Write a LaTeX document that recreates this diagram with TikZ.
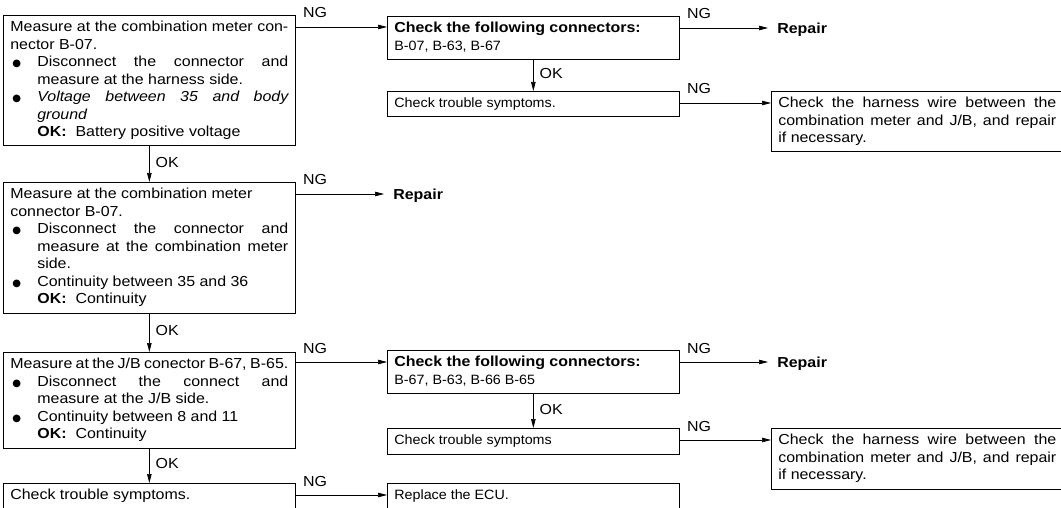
\documentclass[tikz,border=0pt]{standalone}
\usepackage{fontspec}
\setmainfont{Liberation Sans}[FakeStretch=1.06]
\newfontfamily\widefont{Liberation Sans}[FakeStretch=1.1]
\newfontfamily\symfont{DejaVu Sans}
\usetikzlibrary{arrows.meta}
\newcommand\boxfont{\fontsize{13.5}{17.5}\selectfont\tolerance=9999\hbadness=10000\hyphenpenalty=10000}
\newcommand\wfont{\widefont\fontsize{14.5}{17.5}\selectfont\tolerance=9999\hbadness=10000\hyphenpenalty=10000}
\newcommand\head[1]{{\widefont\fontsize{14.5}{17.5}\selectfont\bfseries #1}}
\newcommand\bul{\par\hangindent=27pt\hangafter=0\leavevmode\llap{\makebox[27pt][l]{\hspace{2pt}{\symfont\fontsize{10}{10}\selectfont ●}}}}
\newcommand\okline[1]{\par\hangindent=27pt\hangafter=0\leavevmode\textbf{OK:}\hspace{9pt}#1\strut\par}
\newcommand\rbrk{\unskip\nobreak\hfil\break}
\newcommand\fullline{{\parfillskip=0pt\par}}
\tikzset{
  box/.style={draw,anchor=north west,text width=278pt,inner xsep=7pt,inner ysep=4pt,align=justify,font=\boxfont,execute at begin node=\strut,execute at end node={\ifhmode\strut\fi\par}},
  wbox/.style={box,font=\wfont},
  fix/.style={anchor=west,inner xsep=9pt,inner ysep=0pt,text depth=0pt,font=\wfont\bfseries},
  ng/.style={pos=0,anchor=base west,inner sep=0pt,xshift=7pt,yshift=9pt,font=\wfont},
  ok/.style={pos=0.45,anchor=west,inner sep=0pt,xshift=6pt,font=\wfont}
}
\begin{document}
\begin{tikzpicture}[x=1pt,y=-1pt,line width=0.7pt,>={Triangle[length=9pt,width=4.5pt]}]
	\path[use as bounding box,fill=white] (0,0) rectangle (1061,508);
	\node[wbox] (meas1) at (3,15) {Measure at the combination meter con-\linebreak nector B-07.
		\bul Disconnect the connector and\linebreak measure at the harness side.
		\bul\textit{Voltage between 35 and body\linebreak ground}
		\okline{Battery positive voltage}};
	\node[wbox] (meas2) at (3,182) {Measure at the combination meter\rbrk connector B-07.
		\bul Disconnect the connector and\linebreak measure at the combination meter\linebreak side.
		\bul Continuity between 35 and 36
		\okline{Continuity}};
	\node[wbox] (meas3) at (3,352) {Measure at the J/B conector B-67, B-65.\fullline
		\bul Disconnect the connect and\linebreak measure at the J/B side.
		\bul Continuity between 8 and 11
		\okline{Continuity}};
	\node[wbox] (meas4) at (3,483) {Check trouble symptoms.};
	\node[box] (chk1) at (387,16) {\head{Check the following connectors:}\rbrk B-07, B-63, B-67};
	\node[box] (sym1) at (387,91) {Check trouble symptoms.};
	\node[wbox] (wire1) at (771,91) {Check the harness wire between the\linebreak combination meter and J/B, and repair\linebreak if necessary.};
	\node[box] (chk2) at (387,350) {\head{Check the following connectors:}\rbrk B-67, B-63, B-66 B-65};
	\node[box] (sym2) at (387,428) {Check trouble symptoms};
	\node[wbox] (wire2) at (771,428) {Check the harness wire between the\linebreak combination meter and J/B, and repair\linebreak if necessary.};
	\node[box] (ecu) at (387,483) {Replace the ECU.};
	\node[fix] (fix1) at (768,28) {Repair};
	\node[fix] (fix2) at (384,194) {Repair};
	\node[fix] (fix3) at (768,362) {Repair};
	\draw[->] (meas1) -- node[ok]{OK} (meas2);
	\draw[->] (meas2) -- node[ok]{OK} (meas3);
	\draw[->] (meas3) -- node[ok]{OK} (meas4);
	\draw[->] (chk1) -- node[ok]{OK} (sym1);
	\draw[->] (chk2) -- node[ok]{OK} (sym2);
	\draw[->] ([yshift=-12pt]meas1.north east) -- node[ng]{NG} ([yshift=-12pt]meas1.north east -| chk1.west);
	\draw[->] ([yshift=-12pt]chk1.north east) -- node[ng]{NG} (fix1.west);
	\draw[->] ([yshift=-12pt]sym1.north east) -- node[ng]{NG} ([yshift=-12pt]sym1.north east -| wire1.west);
	\draw[->] ([yshift=-12pt]meas2.north east) -- node[ng]{NG} (fix2.west);
	\draw[->] ([yshift=-10pt]meas3.north east) -- node[ng]{NG} ([yshift=-10pt]meas3.north east -| chk2.west);
	\draw[->] ([yshift=-12pt]chk2.north east) -- node[ng]{NG} (fix3.west);
	\draw[->] ([yshift=-12pt]sym2.north east) -- node[ng]{NG} ([yshift=-12pt]sym2.north east -| wire2.west);
	\draw[->] ([yshift=-12pt]meas4.north east) -- node[ng]{NG} ([yshift=-12pt]meas4.north east -| ecu.west);
\end{tikzpicture}
\end{document}
